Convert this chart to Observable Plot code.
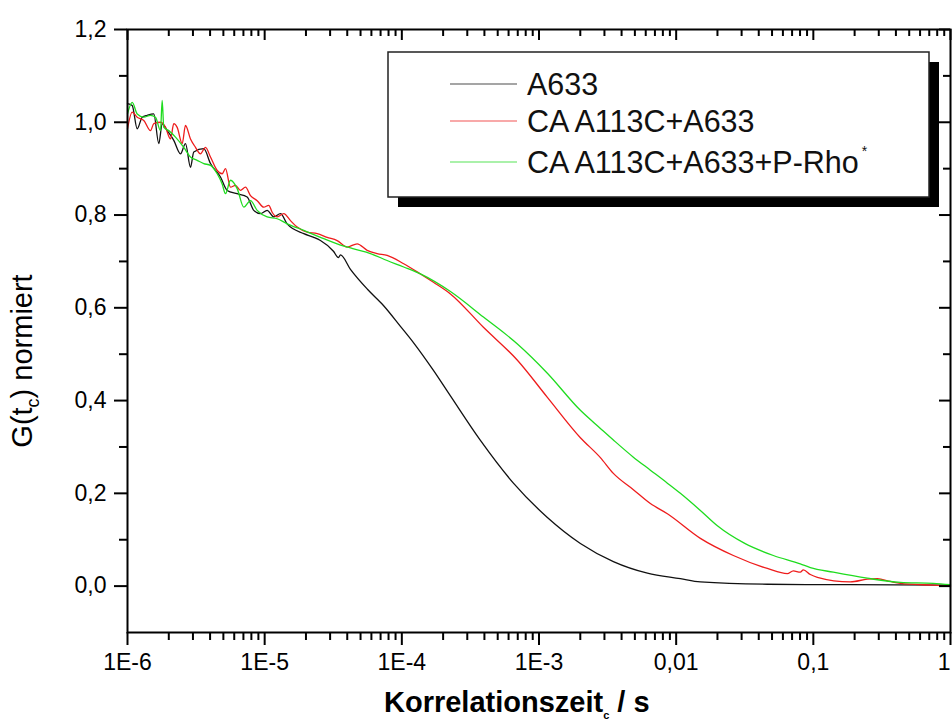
<!DOCTYPE html>
<html><head><meta charset="utf-8">
<script src="https://cdn.jsdelivr.net/npm/d3@7"></script>
<script src="https://cdn.jsdelivr.net/npm/@observablehq/plot@0.6"></script>
<style>html,body{margin:0;padding:0;background:#fff;} svg{display:block}</style>
</head><body><div id="chart"></div>
<script>
// ---- data ----
const seriesNames = ["A633", "CA A113C+A633", "CA A113C+A633+P-Rho"];
const seriesColors = ["#111111", "#ee1c1c", "#1fdc1f"];

const tA633 = [1.000e-6,1.082e-6,1.177e-6,1.280e-6,1.392e-6,1.555e-6,1.691e-6,1.790e-6,1.947e-6,2.175e-6,2.434e-6,2.647e-6,2.879e-6,3.042e-6,3.598e-6,4.027e-6,4.763e-6,5.330e-6,6.304e-6,7.455e-6,8.329e-6,9.320e-6,1.043e-5,1.165e-5,1.304e-5,1.459e-5,1.928e-5,2.280e-5,2.551e-5,3.173e-5,3.450e-5,3.568e-5,4.221e-5,5.614e-5,7.343e-5,9.768e-5,1.215e-4,1.700e-4,2.261e-4,3.741e-4,6.508e-4,1.151e-3,2.003e-3,3.485e-3,6.169e-3,1.073e-2,1.501e-2,4.622e-2,1.861e-1,1.0];
const gA633 = [1.040,1.036,0.986,1.011,1.015,1.018,0.954,0.997,0.982,0.961,0.932,0.954,0.903,0.936,0.943,0.911,0.882,0.853,0.846,0.839,0.810,0.803,0.810,0.796,0.803,0.781,0.760,0.752,0.745,0.722,0.708,0.714,0.683,0.640,0.605,0.560,0.525,0.465,0.410,0.314,0.222,0.148,0.092,0.053,0.028,0.016,0.009,0.004,0.003,0.002];

const tCA = [1.000e-6,1.082e-6,1.177e-6,1.315e-6,1.471e-6,1.555e-6,1.740e-6,1.892e-6,2.058e-6,2.175e-6,2.302e-6,2.504e-6,2.647e-6,2.879e-6,3.131e-6,3.404e-6,3.703e-6,4.027e-6,4.507e-6,4.901e-6,5.180e-6,5.633e-6,6.127e-6,6.663e-6,7.246e-6,7.879e-6,8.817e-6,9.849e-6,1.071e-5,1.134e-5,1.234e-5,1.378e-5,1.542e-5,1.726e-5,2.041e-5,2.414e-5,2.855e-5,3.376e-5,3.993e-5,4.723e-5,5.586e-5,6.607e-5,7.812e-5,1.032e-4,1.367e-4,1.700e-4,2.261e-4,3.934e-4,6.960e-4,1.151e-3,2.003e-3,2.803e-3,3.485e-3,4.875e-3,6.486e-3,8.627e-3,1.501e-2,2.612e-2,4.622e-2,6.464e-2,7.148e-2,8.037e-2,8.453e-2,9.509e-2,1.070e-1,1.861e-1,2.475e-1,2.927e-1,3.640e-1,4.306e-1,7.493e-1,1.0];
const gCA = [0.986,1.022,1.011,1.004,0.982,0.997,1.000,0.989,0.964,0.997,0.989,0.954,0.993,0.964,0.946,0.932,0.946,0.925,0.896,0.889,0.900,0.860,0.864,0.853,0.860,0.842,0.831,0.817,0.821,0.806,0.796,0.803,0.788,0.774,0.763,0.760,0.752,0.745,0.731,0.738,0.724,0.717,0.713,0.695,0.673,0.655,0.630,0.558,0.487,0.407,0.320,0.277,0.243,0.208,0.178,0.156,0.103,0.066,0.038,0.027,0.033,0.030,0.035,0.025,0.019,0.009,0.015,0.016,0.010,0.006,0.002,0.000];

const tCAP = [1.000e-6,1.082e-6,1.177e-6,1.315e-6,1.471e-6,1.600e-6,1.740e-6,1.790e-6,1.839e-6,2.000e-6,2.238e-6,2.572e-6,2.879e-6,3.221e-6,3.598e-6,4.027e-6,4.507e-6,4.901e-6,5.180e-6,5.633e-6,6.304e-6,7.042e-6,7.879e-6,8.817e-6,1.043e-5,1.234e-5,1.459e-5,1.928e-5,2.551e-5,3.376e-5,4.461e-5,5.904e-5,7.812e-5,1.032e-4,1.367e-4,2.261e-4,3.934e-4,6.960e-4,1.151e-3,2.003e-3,2.803e-3,3.485e-3,4.875e-3,6.486e-3,8.627e-3,1.073e-2,1.501e-2,1.997e-2,3.162e-2,5.111e-2,8.037e-2,9.509e-2,1.399e-1,2.475e-1,4.306e-1,7.493e-1,1.0];
const gCAP = [1.018,1.043,1.018,1.011,1.015,1.011,0.982,1.047,0.989,0.982,0.968,0.946,0.925,0.918,0.911,0.907,0.889,0.867,0.846,0.875,0.857,0.817,0.831,0.810,0.796,0.792,0.781,0.767,0.752,0.738,0.727,0.717,0.702,0.688,0.673,0.635,0.580,0.522,0.459,0.379,0.340,0.315,0.278,0.250,0.222,0.200,0.163,0.130,0.092,0.066,0.048,0.040,0.030,0.017,0.008,0.006,0.003];

const xTickValues = [1e-6, 1e-5, 1e-4, 1e-3, 0.01, 0.1, 1];
const xTickLabels = ["1E-6", "1E-5", "1E-4", "1E-3", "0,01", "0,1", "1"];
const yTickValues = [0, 0.2, 0.4, 0.6, 0.8, 1.0, 1.2];
const yTickLabels = ["0,0", "0,2", "0,4", "0,6", "0,8", "1,0", "1,2"];
const yMinorValues = [0.1, 0.3, 0.5, 0.7, 0.9, 1.1];
const xMinorMultipliers = [2, 3, 4, 5, 6, 7, 8, 9];

const xTitleParts = ["Korrelationszeit", "c", " / s"];
const yTitleParts = ["G(t", "c", ") normiert"];

// ---- build table ----
const seriesT = [tA633, tCA, tCAP];
const seriesG = [gA633, gCA, gCAP];
const rows = seriesNames.flatMap((name, i) => seriesT[i].map((t, j) => ({series: name, t, g: seriesG[i][j]})));
const xMinorValues = xTickValues.slice(0, -1).flatMap(d => xMinorMultipliers.map(k => k * d));

// ---- layout ----
const W = 952, H = 722;
const mL = 127, mR = 2, mT = 29, mB = 90;
const plotW = W - mL - mR, plotH = H - mT - mB;
const FONT = "'Liberation Sans', Arial, Helvetica, sans-serif";

const chart = Plot.plot({
  width: W, height: H,
  marginLeft: mL, marginRight: mR, marginTop: mT, marginBottom: mB,
  style: {fontFamily: FONT, fontSize: "23px", color: "#000", background: "#fff", overflow: "visible"},
  x: {type: "log", domain: [1e-6, 1]},
  y: {domain: [-0.1, 1.2]},
  color: {domain: seriesNames, range: seriesColors},
  marks: [
    Plot.line(rows, {x: "t", y: "g", z: "series", stroke: "series", strokeWidth: 1.3, curve: "monotone-x"}),
    Plot.frame({stroke: "#000", strokeWidth: 2}),
    // bottom axis (outward)
    Plot.axisX({anchor: "bottom", ticks: xTickValues, tickFormat: d => xTickLabels[xTickValues.indexOf(d)], tickSize: 13, tickPadding: 8, strokeWidth: 2, fontSize: 23, label: null}),
    Plot.axisX({anchor: "bottom", ticks: xMinorValues, tickFormat: () => "", tickSize: 8, strokeWidth: 2, label: null}),
    // top axis (inward)
    Plot.tickX(xTickValues, {x: d => d, insetBottom: plotH - 11, stroke: "#000", strokeWidth: 2}),
    Plot.tickX(xMinorValues, {x: d => d, insetBottom: plotH - 7, stroke: "#000", strokeWidth: 2}),
    // left axis (outward)
    Plot.axisY({anchor: "left", ticks: yTickValues, tickFormat: d => yTickLabels[yTickValues.indexOf(d)], tickSize: 13, tickPadding: 8, strokeWidth: 2, fontSize: 23, label: null}),
    Plot.axisY({anchor: "left", ticks: yMinorValues, tickFormat: () => "", tickSize: 8, strokeWidth: 2, label: null}),
    // right axis (inward)
    Plot.tickY(yTickValues, {y: d => d, insetLeft: plotW - 11, stroke: "#000", strokeWidth: 2}),
    Plot.tickY(yMinorValues, {y: d => d, insetLeft: plotW - 7, stroke: "#000", strokeWidth: 2})
  ]
});
document.getElementById("chart").appendChild(chart);

const svg = d3.select(chart);

// keep the last x tick label ("1") inside the picture: right-align it at the edge
svg.selectAll("text").filter(function() { return this.textContent === xTickLabels[xTickLabels.length - 1]; })
  .attr("text-anchor", "end").attr("dx", 0);

// ---- titles and legend (decoration) ----
const xt = svg.append("text")
  .attr("x", 384).attr("y", 712).attr("text-anchor", "start")
  .attr("font-family", FONT).attr("font-size", 29).attr("font-weight", "bold").attr("fill", "#000");
xt.append("tspan").text(xTitleParts[0]);
xt.append("tspan").attr("dy", 7).attr("font-size", 11).text(xTitleParts[1]);
xt.append("tspan").attr("dy", -7).text(xTitleParts[2]);

const yt = svg.append("text")
  .attr("transform", "translate(32,361) rotate(-90)")
  .attr("text-anchor", "middle")
  .attr("font-family", FONT).attr("font-size", 29).attr("fill", "#000");
yt.append("tspan").text(yTitleParts[0]);
yt.append("tspan").attr("dy", 7).attr("font-size", 18).text(yTitleParts[1]);
yt.append("tspan").attr("dy", -7).text(yTitleParts[2]);

const lg = svg.append("g");
lg.append("rect").attr("x", 398).attr("y", 62).attr("width", 541).attr("height", 145).attr("fill", "#000");
lg.append("rect").attr("x", 388).attr("y", 52).attr("width", 541).attr("height", 145).attr("fill", "#fff").attr("stroke", "#222").attr("stroke-width", 1.5);
const rowsY = [84, 121, 162];
seriesNames.forEach((name, i) => {
  lg.append("line").attr("x1", 450).attr("x2", 517).attr("y1", rowsY[i]).attr("y2", rowsY[i])
    .attr("stroke", seriesColors[i]).attr("stroke-width", 1.2).attr("opacity", 0.75);
  const t = lg.append("text").attr("x", 527).attr("y", rowsY[i] + 11).attr("text-anchor", "start")
    .attr("font-family", FONT).attr("font-size", 30.5).attr("fill", "#111");
  t.append("tspan").text(name);
  if (i === 2) t.append("tspan").attr("dy", -17).attr("dx", 3).attr("font-size", 14).text("*");
});
</script>
</body></html>
